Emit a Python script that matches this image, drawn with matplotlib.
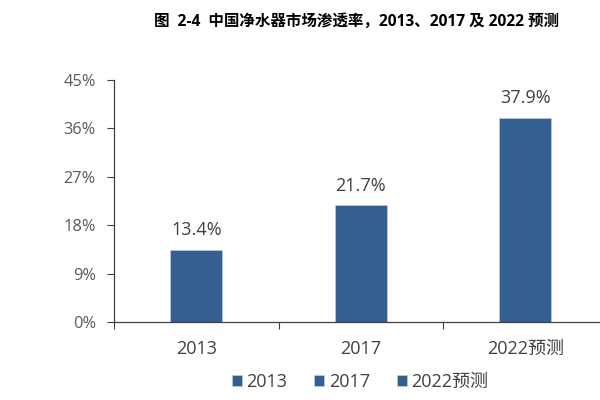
import matplotlib
matplotlib.use("Agg")
import matplotlib.pyplot as plt
from matplotlib.ticker import FuncFormatter, FixedLocator

plt.rcParams['font.family'] = ['Open Sans', 'Noto Sans CJK SC', 'DejaVu Sans']

categories = ["2013", "2017", "2022预测"]
values = [13.4, 21.7, 37.9]
labels = ["13.4%", "21.7%", "37.9%"]
yticks = [0, 9, 18, 27, 36, 45]
title = "图  2-4  中国净水器市场渗透率，2013、2017 及 2022 预测"

bar_color = "#355F91"
text_color = "#595959"

fig = plt.figure(figsize=(6, 4), dpi=100)
ax = fig.add_axes([0.19, 0.195, 0.81, 0.605])

x = list(range(len(categories)))
for i, (c, v) in enumerate(zip(categories, values)):
    ax.bar(i, v, width=0.316, color=bar_color, label=c, edgecolor="#c8d4e4", linewidth=0.4)
    ax.text(i, v + 2.0, labels[i], ha="center", va="bottom", fontsize=13, color="#404040")

ax.set_ylim(0, 45)
ax.set_xlim(-0.5, 2.454)
ax.set_yticks(yticks)
ax.yaxis.set_major_formatter(FuncFormatter(lambda v, p: f"{int(v)}%"))
ax.xaxis.set_major_locator(FixedLocator([-0.5, 0.5, 1.5]))
ax.set_xticklabels([])
ax.xaxis.set_minor_locator(FixedLocator(x))
ax.set_xticklabels(categories, minor=True)
ax.tick_params(axis="x", which="minor", length=0, pad=13, labelsize=13, labelcolor="#404040")
ax.tick_params(axis="x", which="major", length=5, direction="out", color="#404040")
ax.tick_params(axis="y", length=5, direction="out", color="#404040", labelsize=11.8, labelcolor=text_color, pad=8)

for s in ["top", "right"]:
    ax.spines[s].set_visible(False)
for s in ["left", "bottom"]:
    ax.spines[s].set_color("#404040")
    ax.spines[s].set_linewidth(0.9)

fig.text(0.595, 0.945, title, ha="center", va="center", fontsize=11.2, fontweight="bold",
         color="#000000", family=['Open Sans', 'Noto Sans CJK SC', 'DejaVu Sans'])

leg = fig.legend(loc="center", bbox_to_anchor=(0.6, 0.045), ncol=3, frameon=False,
                 handlelength=0.55, handleheight=0.55, handletextpad=0.25, columnspacing=1.5,
                 fontsize=13)
for t in leg.get_texts():
    t.set_color("#404040")

fig.savefig("out.png", dpi=100, facecolor="white")
